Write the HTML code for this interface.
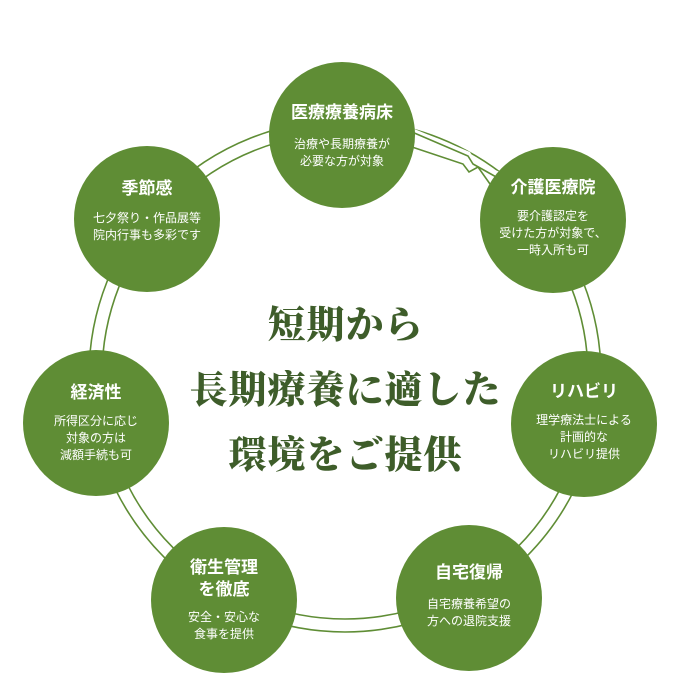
<!DOCTYPE html>
<html><head><meta charset="utf-8"><style>
body{margin:0;width:691px;height:681px;background:#fff;position:relative;overflow:hidden;font-family:"Liberation Sans","Noto Sans CJK JP",sans-serif}
.c{position:absolute;width:146px;height:146px;border-radius:50%;background:#5f8d35;color:#fff;text-align:center;box-sizing:border-box}
.c b{display:block;font-size:17px;font-weight:bold;line-height:22px}
.c span{display:block;font-size:12px;line-height:17px;margin-top:12px}
.t{position:absolute;left:0;width:691px;text-align:center;font-family:"Liberation Serif","Noto Serif CJK SC",serif;font-weight:900;font-size:38px;color:#3e5d2a;letter-spacing:1px}
</style></head><body>
<svg width="691" height="681" style="position:absolute;left:0;top:0">
<circle cx="345" cy="376" r="243" fill="none" stroke="#5f8d35" stroke-width="1.6"/>
<circle cx="345" cy="376" r="256" fill="none" stroke="#5f8d35" stroke-width="1.6"/>
<polygon points="412,128 470,152 476,162 500,172 500,190 470,176 412,158" fill="#fff"/>
<polyline points="412,132 468,156 473,164 498,178" fill="none" stroke="#5f8d35" stroke-width="1.6"/>
<polyline points="412,147 463,164 469,172 478,167 490,184" fill="none" stroke="#5f8d35" stroke-width="1.6"/>
</svg>
<div class="c" style="left:269px;top:62px;padding-top:40px"><b>医療療養病床</b><span>治療や長期療養が<br>必要な方が対象</span></div>
<div class="c" style="left:480px;top:147px;padding-top:30px"><b>介護医療院</b><span style="margin-top:9px">要介護認定を<br>受けた方が対象で、<br>一時入所も可</span></div>
<div class="c" style="left:511px;top:351px;padding-top:30px"><b>リハビリ</b><span style="margin-top:9px">理学療法士による<br>計画的な<br>リハビリ提供</span></div>
<div class="c" style="left:396px;top:525px;padding-top:37px"><b>自宅復帰</b><span>自宅療養希望の<br>方への退院支援</span></div>
<div class="c" style="left:151px;top:527px;padding-top:30px"><b>衛生管理<br>を徹底</b><span style="margin-top:8px">安全・安心な<br>食事を提供</span></div>
<div class="c" style="left:23px;top:350px;padding-top:32px"><b>経済性</b><span style="margin-top:9px">所得区分に応じ<br>対象の方は<br>減額手続も可</span></div>
<div class="c" style="left:74px;top:146px;padding-top:32px"><b>季節感</b><span style="margin-top:10px">七夕祭り・作品展等<br>院内行事も多彩です</span></div>
<div class="t" style="top:294px">短期から</div>
<div class="t" style="top:359px">長期療養に適した</div>
<div class="t" style="top:424px">環境をご提供</div>
</body></html>
